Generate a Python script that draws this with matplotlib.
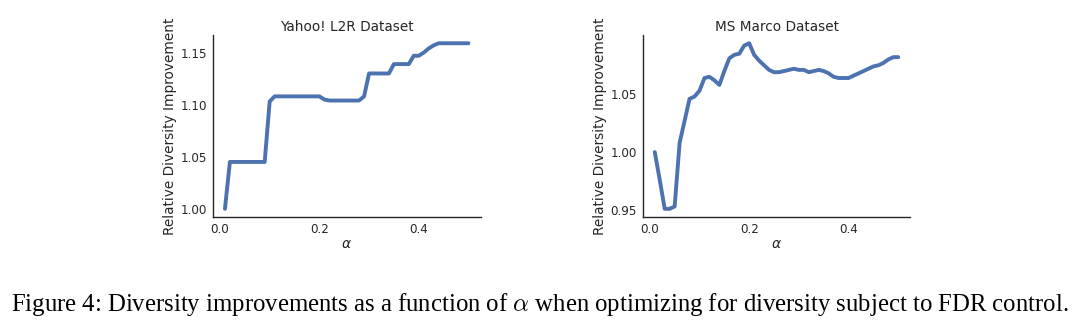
import numpy as np
import matplotlib
matplotlib.use("Agg")
import matplotlib.pyplot as plt
import seaborn as sns

alpha = np.round(np.arange(1, 51) * 0.01, 2)

yahoo = [1.000, 1.045, 1.045, 1.045, 1.045, 1.045, 1.045, 1.045, 1.045, 1.103,
         1.108, 1.108, 1.108, 1.108, 1.108, 1.108, 1.108, 1.108, 1.108, 1.108,
         1.105, 1.104, 1.104, 1.104, 1.104, 1.104, 1.104, 1.104, 1.108, 1.130,
         1.130, 1.130, 1.130, 1.130, 1.139, 1.139, 1.139, 1.139, 1.147, 1.147,
         1.150, 1.154, 1.157, 1.159, 1.159, 1.159, 1.159, 1.159, 1.159, 1.159]

msmarco = [1.000, 0.976, 0.951, 0.951, 0.953, 1.008, 1.027, 1.046, 1.048, 1.053,
           1.064, 1.065, 1.062, 1.058, 1.070, 1.081, 1.084, 1.085, 1.092, 1.094,
           1.084, 1.079, 1.075, 1.071, 1.069, 1.069, 1.070, 1.071, 1.072, 1.071,
           1.071, 1.069, 1.070, 1.071, 1.070, 1.068, 1.065, 1.064, 1.064, 1.064,
           1.066, 1.068, 1.070, 1.072, 1.074, 1.075, 1.077, 1.080, 1.082, 1.082]

titles = ["Yahoo! L2R Dataset", "MS Marco Dataset"]
yticks = [[1.00, 1.05, 1.10, 1.15], [0.95, 1.00, 1.05]]
caption = r"Figure 4: Diversity improvements as a function of $\alpha$ when optimizing for diversity subject to FDR control."

sns.set_style("white")
plt.rcParams["font.family"] = ["DejaVu Sans"]
plt.rcParams["mathtext.fontset"] = "dejavusans"

fig = plt.figure(figsize=(10.8, 3.24), dpi=100)
ax1 = fig.add_axes([0.197, 0.330, 0.248, 0.562])
ax2 = fig.add_axes([0.595, 0.330, 0.248, 0.562])

for ax, data, title, yt in zip([ax1, ax2], [yahoo, msmarco], titles, yticks):
    ax.plot(alpha, data, color="#4C72B0", lw=2.8)
    ax.set_title(title, fontsize=9.8, color=".15", pad=3)
    ax.set_xticks([0.0, 0.2, 0.4])
    ax.set_yticks(yt)
    ax.tick_params(labelsize=8.6, colors=".15", length=0, pad=4)
    ax.set_xlabel(r"$\alpha$", fontsize=10, color=".15", labelpad=1)
    ax.set_ylabel("Relative Diversity Improvement", fontsize=9.8, color=".15", labelpad=3)
    sns.despine(ax=ax)
    for s in ["left", "bottom"]:
        ax.spines[s].set_color(".15")
        ax.spines[s].set_linewidth(1.0)

fig.text(0.5, 0.040, caption, ha="center", va="baseline", fontsize=17.8,
         family="Liberation Serif", math_fontfamily="cm", color="black")

fig.savefig("out.png", dpi=100)
